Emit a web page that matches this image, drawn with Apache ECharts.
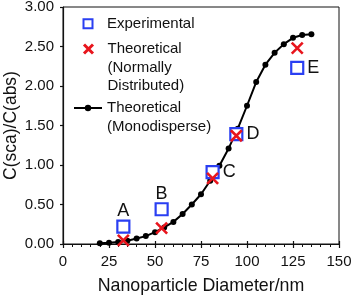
<!DOCTYPE html>
<html><head><meta charset="utf-8">
<script src="https://cdn.jsdelivr.net/npm/echarts@6/dist/echarts.min.js"></script>
<style>html,body{margin:0;padding:0;background:#fff}#c{width:353px;height:296px}</style>
</head><body><div id="c"></div>
<script>
var diameters = [20,25,30,35,40,45,50,55,60,65,70,75,80,85,90,95,100,105,110,115,120,125,130,135];
var monodisperse = [0.01,0.015,0.025,0.04,0.07,0.10,0.15,0.21,0.28,0.38,0.50,0.63,0.80,0.99,1.21,1.46,1.75,2.05,2.27,2.42,2.53,2.61,2.645,2.655];
var sampleDiameters = [32.8,53.6,81.3,94.2,127.3];
var experimental = [0.22,0.44,0.91,1.39,2.23];
var normallyDistributed = [0.045,0.20,0.83,1.37,2.48];
var pointLabels = ['A','B','C','D','E'];
var labelPositions = ['top','top','right','right','right'];
var xTicks = [0,25,50,75,100,125,150];
var yTicks = [0,0.5,1,1.5,2,2.5,3];

var FONT = '"Liberation Sans", Arial, sans-serif';
var BLUE = '#2a3ff2', RED = '#e8151d';
var X_PATH = 'path://M0,0L10,10M10,0L0,10';

var chart = echarts.init(document.getElementById('c'));
var axisText = {color:'#111', fontFamily:FONT, fontSize:15};
function legendText(spacer, indent){
  return {color:'#111', fontFamily:FONT, fontSize:15, lineHeight:18.5,
    rich:{sp:{fontSize:1, lineHeight:spacer, height:spacer}, ind:{width:indent, fontSize:1}}};
}

chart.setOption({
  animation:false,
  grid:{left:63, right:14, top:7, bottom:52, show:true, borderColor:'#111', borderWidth:1,
    containLabel:false, outerBoundsMode:'none'},
  xAxis:[{
    type:'value', min:xTicks[0], max:xTicks[xTicks.length-1], interval:25,
    name:'Nanoparticle Diameter/nm', nameLocation:'middle', nameGap:33, nameMoveOverlap:false,
    nameTextStyle:{color:'#111', fontFamily:FONT, fontSize:17.8},
    axisLine:{onZero:false, lineStyle:{color:'#111', width:1.2}},
    axisTick:{show:true, length:4, lineStyle:{color:'#111', width:1.2}},
    minorTick:{show:true, splitNumber:5, length:3, lineStyle:{color:'#111', width:1}},
    splitLine:{show:false},
    axisLabel:Object.assign({margin:10}, axisText)
  },{
    type:'value', min:xTicks[0], max:xTicks[xTicks.length-1], interval:25, position:'bottom',
    axisLine:{show:false}, axisLabel:{show:false}, splitLine:{show:false},
    axisTick:{show:true, inside:true, length:3, lineStyle:{color:'#111', width:1.2}}
  }],
  yAxis:{
    type:'value', min:yTicks[0], max:yTicks[yTicks.length-1], interval:0.5,
    name:'C(sca)/C(abs)', nameLocation:'middle', nameGap:43, nameMoveOverlap:false,
    nameTextStyle:{color:'#111', fontFamily:FONT, fontSize:17.5},
    axisLine:{onZero:false, lineStyle:{color:'#111', width:1.2}},
    axisTick:{show:true, length:3, lineStyle:{color:'#111', width:1.2}},
    splitLine:{show:false},
    axisLabel:Object.assign({margin:9, formatter:function(v){return v.toFixed(2);}}, axisText)
  },
  legend:[
    {orient:'vertical', left:82.5, top:14.5, padding:0, itemWidth:9, itemHeight:9, selectedMode:false,
      textStyle:legendText(1, 9.5),
      data:['Experimental'],
      formatter:function(n){return '{ind|}' + n;}},
    {orient:'vertical', left:82.5, top:2.75, padding:0, itemWidth:9, itemHeight:9, selectedMode:false,
      itemStyle:{borderColor:RED, borderWidth:3},
      textStyle:legendText(37, 9.5),
      data:['Theoretical (Normally Distributed)'],
      formatter:function(){return '{sp| }\n{ind|}Theoretical\n{ind|}(Normally\n{ind|}Distributed)';}},
    {orient:'vertical', left:73, top:80.25, padding:0, itemWidth:28, itemHeight:8, selectedMode:false,
      textStyle:legendText(18.5, 0),
      data:['Theoretical (Monodisperse)'],
      formatter:function(){return '{sp| }\nTheoretical\n(Monodisperse)';}}
  ],
  series:[
    {
      name:'Theoretical (Monodisperse)', type:'line',
      data:diameters.map(function(d,i){return [d, monodisperse[i]];}),
      symbol:'circle', symbolSize:6, showSymbol:true,
      lineStyle:{color:'#000', width:2}, itemStyle:{color:'#000'}, z:2
    },
    {
      name:'Experimental', type:'scatter',
      data:sampleDiameters.map(function(d,i){
        var pos = labelPositions[i];
        return {value:[d, experimental[i]], label:{position:pos, distance:pos === 'top' ? 1 : 3}};
      }),
      symbol:'rect', symbolSize:12,
      itemStyle:{color:'#fff', borderColor:BLUE, borderWidth:2.2, opacity:1},
      label:{show:true, color:'#111', fontFamily:FONT, fontSize:18, lineHeight:14,
        formatter:function(p){return pointLabels[p.dataIndex];}},
      z:3
    },
    {
      name:'Theoretical (Normally Distributed)', type:'scatter',
      data:sampleDiameters.map(function(d,i){return [d, normallyDistributed[i]];}),
      symbol:X_PATH, symbolSize:11,
      itemStyle:{color:RED, borderColor:RED, borderWidth:2.6, opacity:1},
      z:4
    }
  ]
});
</script></body></html>
